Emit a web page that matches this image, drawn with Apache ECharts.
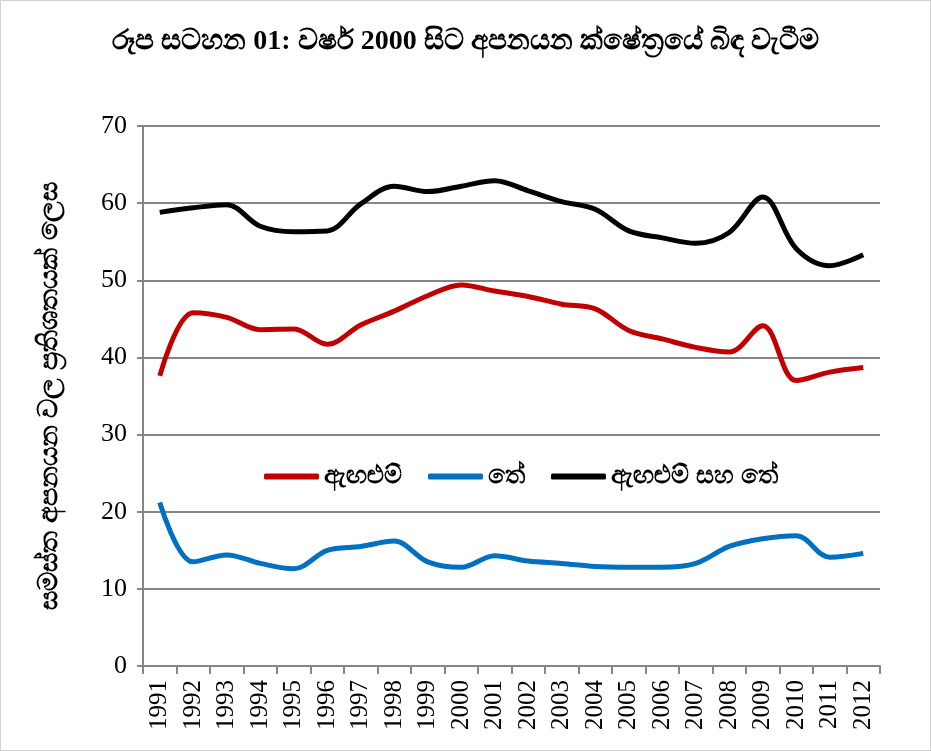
<!DOCTYPE html>
<html>
<head>
<meta charset="utf-8">
<script src="https://cdn.jsdelivr.net/npm/echarts@6/dist/echarts.min.js"></script>
<style>
  html, body { margin: 0; padding: 0; background: #fff; }
  #chart { width: 929px; height: 749px; border: 1px solid #d0d0d0; }
</style>
</head>
<body>
<div id="chart"></div>
<script>
// years on the x axis
const years = ['1991', '1992', '1993', '1994', '1995', '1996', '1997', '1998', '1999', '2000', '2001',
    '2002', '2003', '2004', '2005', '2006', '2007', '2008', '2009', '2010', '2011', '2012'];

// garments
const garments = [37.6, 45.8, 45.2, 43.6, 43.7, 41.7, 44.2, 46.0, 48.0, 49.4, 48.6,
    47.9, 46.9, 46.3, 43.5, 42.4, 41.3, 40.7, 44.1, 37.0, 38.1, 38.7];

// tea
const tea = [21.2, 13.5, 14.4, 13.3, 12.6, 15.0, 15.5, 16.2, 13.5, 12.8, 14.3,
    13.6, 13.3, 12.9, 12.8, 12.8, 13.3, 15.5, 16.5, 16.9, 14.1, 14.6];

// garments and tea
const both = [58.8, 59.4, 59.8, 57.0, 56.3, 56.4, 59.9, 62.2, 61.5, 62.2, 62.9,
    61.6, 60.2, 59.2, 56.4, 55.5, 54.8, 56.2, 60.8, 54.1, 51.9, 53.3];

const seriesNames = ['ඇඟළුම්', 'තේ', 'ඇඟළුම් සහ තේ'];
const colors = ['#c00000', '#0070c0', '#000000'];

let chartDom = document.getElementById('chart');
let myChart = echarts.init(chartDom);

function makeLine(name, data, color) {
    return {
        name: name,
        type: 'line',
        data: data,
        smooth: 0.35,
        symbol: 'none',
        lineStyle: { color: color, width: 5 },
        itemStyle: { color: color }
    };
}

let option = {
    animation: false,
    title: {
        text: 'රූප සටහන 01: වර්ෂ 2000 සිට අපනයන ක්ෂේත්‍රයේ බිඳ වැටීම',
        left: 'center',
        top: 22,
        textStyle: { fontSize: 28, fontWeight: 'bold', color: '#000', fontFamily: 'serif' }
    },
    legend: {
        top: 458,
        left: 258,
        itemWidth: 55,
        itemHeight: 6,
        itemGap: 26,
        icon: 'roundRect',
        textStyle: { fontSize: 25, fontWeight: 'bold', color: '#000' },
        data: seriesNames
    },
    grid: { left: 142, right: 50, top: 125, bottom: 84 },
    xAxis: {
        type: 'category',
        data: years,
        boundaryGap: true,
        axisLine: { lineStyle: { color: '#868686', width: 2 } },
        axisTick: { show: true, length: 8, interval: 0, lineStyle: { color: '#868686', width: 2 } },
        axisLabel: { rotate: 90, interval: 0, fontSize: 25, color: '#000', fontFamily: 'Liberation Serif', margin: 14 }
    },
    yAxis: {
        type: 'value',
        min: 0,
        max: 70,
        interval: 10,
        name: 'සමස්ත අපනයන වල ප්‍රතිශතයක් ලෙස',
        nameLocation: 'middle',
        nameGap: 80,
        nameTextStyle: { fontSize: 27, fontWeight: 'bold', color: '#000' },
        axisLine: { show: true, lineStyle: { color: '#868686', width: 2 } },
        axisTick: { show: true, length: 6, lineStyle: { color: '#868686', width: 2 } },
        splitLine: { lineStyle: { color: '#868686', width: 2 } },
        axisLabel: { fontSize: 26, color: '#000', fontFamily: 'Liberation Serif', margin: 16 }
    },
    series: [
        makeLine(seriesNames[0], garments, colors[0]),
        makeLine(seriesNames[1], tea, colors[1]),
        makeLine(seriesNames[2], both, colors[2])
    ]
};

myChart.setOption(option);
</script>
</body>
</html>
